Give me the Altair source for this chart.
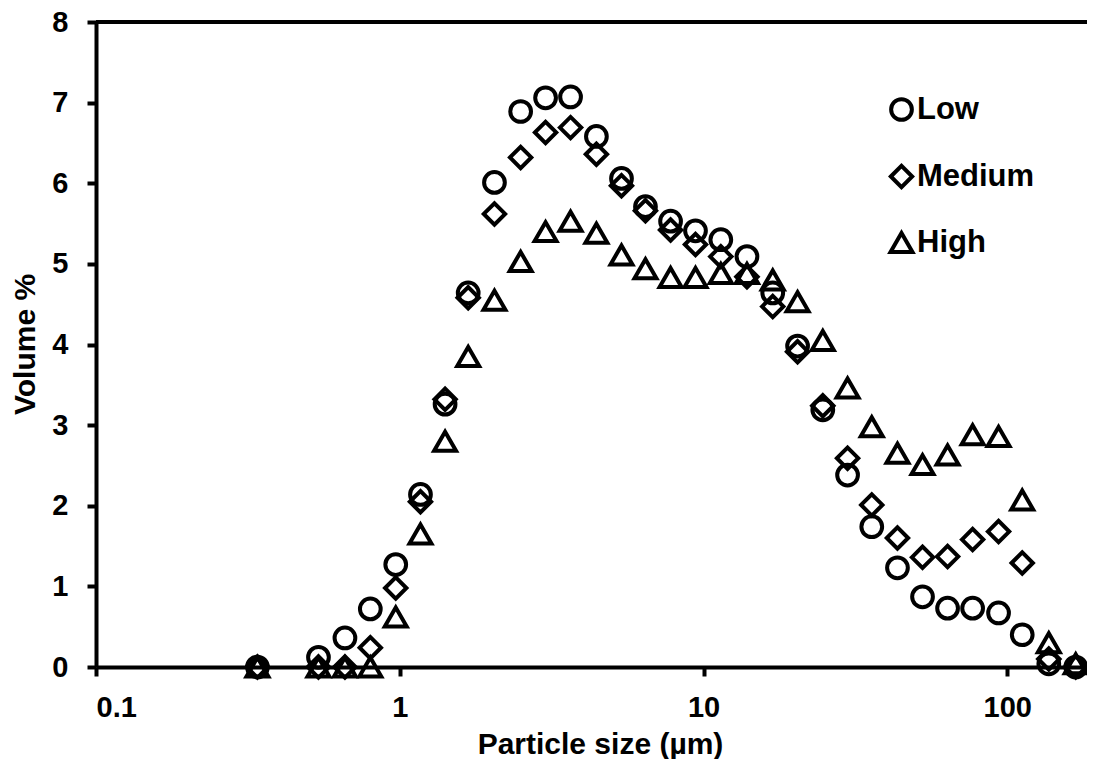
import altair as alt
import pandas as pd

# Particle size bins (µm) and volume % per series
size_um = [0.34, 0.54, 0.66, 0.80, 0.97, 1.17, 1.41, 1.68, 2.05, 2.50, 3.02, 3.65,
           4.44, 5.37, 6.44, 7.79, 9.41, 11.4, 13.9, 16.9, 20.4, 24.7, 29.8, 35.8,
           43.5, 52.6, 63.6, 76.9, 93.6, 112.0, 137.0, 168.0]
low = [0, 0.12, 0.36, 0.72, 1.27, 2.14, 3.26, 4.64, 6.01, 6.89, 7.06, 7.07,
       6.58, 6.06, 5.71, 5.53, 5.41, 5.30, 5.09, 4.64, 3.98, 3.19, 2.38, 1.74,
       1.23, 0.87, 0.73, 0.73, 0.67, 0.40, 0.04, 0]
medium = [0, 0, 0, 0.24, 0.98, 2.05, 3.32, 4.58, 5.62, 6.32, 6.63, 6.69,
          6.36, 5.97, 5.66, 5.42, 5.24, 5.09, 4.84, 4.47, 3.91, 3.24, 2.59, 2.01,
          1.60, 1.36, 1.37, 1.58, 1.68, 1.29, 0.10, 0]
high = [0, 0, 0, 0, 0.62, 1.65, 2.80, 3.85, 4.55, 5.03, 5.40, 5.53,
        5.38, 5.11, 4.94, 4.83, 4.83, 4.88, 4.88, 4.80, 4.53, 4.05, 3.46, 2.98,
        2.65, 2.51, 2.63, 2.88, 2.86, 2.07, 0.30, 0.04]

series_names = ["Low", "Medium", "High"]
x_ticks = [0.1, 1, 10, 100]
y_ticks = [0, 1, 2, 3, 4, 5, 6, 7, 8]
x_domain = [0.1, 183]
y_domain = [0, 8]

rows = []
for name, vals in zip(series_names, [low, medium, high]):
    for s, v in zip(size_um, vals):
        rows.append({"size": s, "volume": v, "series": name})
df = pd.DataFrame(rows)

FONT = "Liberation Sans"

legend_cfg = dict(title=None, orient="none", legendX=790, legendY=72)

points = alt.Chart(df).mark_point(
    filled=False, color="black", strokeWidth=4, opacity=1
).encode(
    x=alt.X("size:Q",
            scale=alt.Scale(type="log", domain=x_domain, nice=False),
            axis=alt.Axis(values=x_ticks, format="~g", title="Particle size (µm)",
                          titleX=504, titleY=86, titleBaseline="alphabetic",
                          titleAlign="center",
                          labelBaseline="alphabetic", labelPadding=40,
                          labelFontSize=29)),
    y=alt.Y("volume:Q",
            scale=alt.Scale(domain=y_domain, nice=False),
            axis=alt.Axis(values=y_ticks, format="d", title="Volume %",
                          titleX=-62, titleY=322, titleBaseline="alphabetic",
                          titleAlign="center", titleAngle=270,
                          labelPadding=19, labelFontSize=29)),
    shape=alt.Shape("series:N",
                    scale=alt.Scale(domain=series_names,
                                    range=["circle", "diamond", "triangle-up"]),
                    legend=alt.Legend(**legend_cfg)),
    size=alt.Size("series:N",
                  scale=alt.Scale(domain=series_names, range=[430, 480, 380]),
                  legend=alt.Legend(**legend_cfg)),
)

top_frame = alt.Chart(pd.DataFrame({"ymax": [y_domain[1]]})).mark_rule(
    color="black", strokeWidth=4
).encode(y="ymax:Q")

chart = alt.layer(top_frame, points).properties(
    width=991,
    height=645,
    autosize=alt.AutoSizeParams(type="none"),
    padding={"left": 88, "top": 14, "right": 0, "bottom": 92},
).configure_view(
    stroke=None
).configure_axis(
    domainColor="black", domainWidth=4,
    tickColor="black", tickWidth=4, tickSize=9,
    labelFont=FONT, labelFontWeight="bold", labelColor="black",
    titleFont=FONT, titleFontWeight="bold", titleColor="black", titleFontSize=30,
    grid=False,
).configure_legend(
    labelFont=FONT, labelFontWeight="bold", labelFontSize=31, labelColor="black",
    symbolStrokeColor="black", symbolStrokeWidth=4, symbolFillColor="transparent",
    rowPadding=29, labelOffset=0, padding=0,
)

chart.save("out.html", embed_options={"renderer": "svg", "actions": False})
